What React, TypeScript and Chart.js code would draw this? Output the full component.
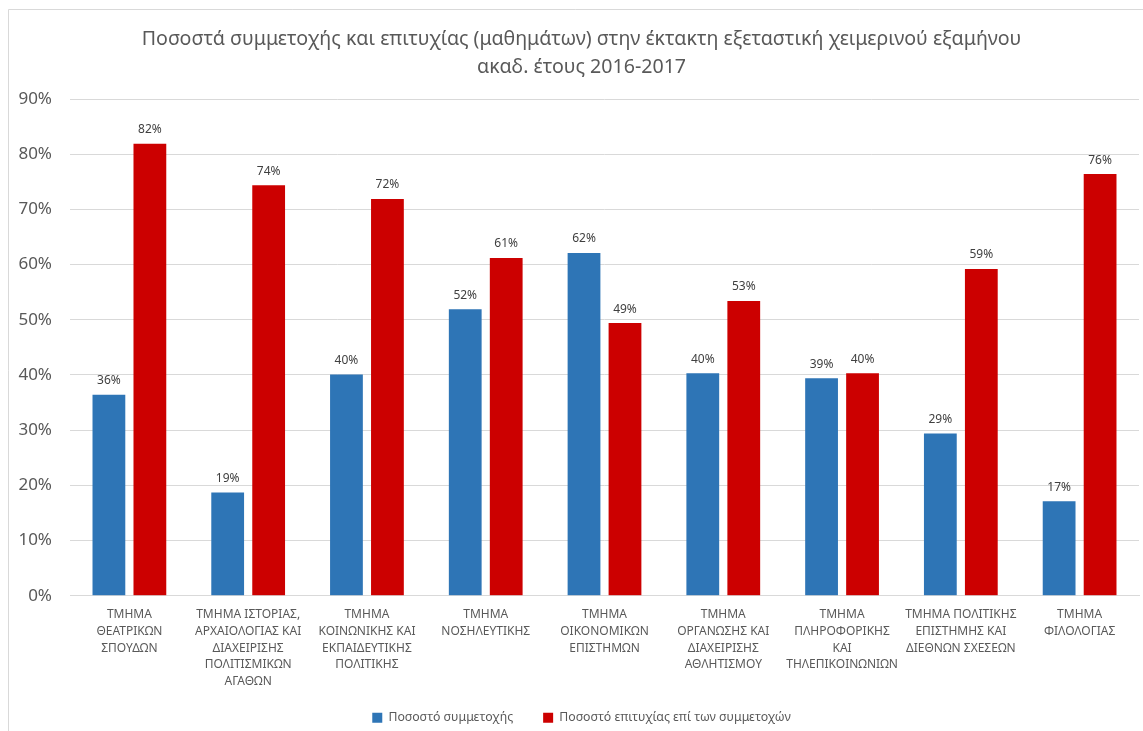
import { useEffect, useRef } from "react";
import { Chart, registerables } from "chart.js";

Chart.register(...registerables);

const titleLines = [
  "Ποσοστά συμμετοχής και επιτυχίας (μαθημάτων) στην έκτακτη εξεταστική χειμερινού εξαμήνου",
  "ακαδ. έτους 2016-2017",
];

const categories: string[][] = [
  ["ΤΜΗΜΑ", "ΘΕΑΤΡΙΚΩΝ", "ΣΠΟΥΔΩΝ"],
  ["ΤΜΗΜΑ ΙΣΤΟΡΙΑΣ,", "ΑΡΧΑΙΟΛΟΓΙΑΣ ΚΑΙ", "ΔΙΑΧΕΙΡΙΣΗΣ", "ΠΟΛΙΤΙΣΜΙΚΩΝ", "ΑΓΑΘΩΝ"],
  ["ΤΜΗΜΑ", "ΚΟΙΝΩΝΙΚΗΣ ΚΑΙ", "ΕΚΠΑΙΔΕΥΤΙΚΗΣ", "ΠΟΛΙΤΙΚΗΣ"],
  ["ΤΜΗΜΑ", "ΝΟΣΗΛΕΥΤΙΚΗΣ"],
  ["ΤΜΗΜΑ", "ΟΙΚΟΝΟΜΙΚΩΝ", "ΕΠΙΣΤΗΜΩΝ"],
  ["ΤΜΗΜΑ", "ΟΡΓΑΝΩΣΗΣ ΚΑΙ", "ΔΙΑΧΕΙΡΙΣΗΣ", "ΑΘΛΗΤΙΣΜΟΥ"],
  ["ΤΜΗΜΑ", "ΠΛΗΡΟΦΟΡΙΚΗΣ", "ΚΑΙ", "ΤΗΛΕΠΙΚΟΙΝΩΝΙΩΝ"],
  ["ΤΜΗΜΑ ΠΟΛΙΤΙΚΗΣ", "ΕΠΙΣΤΗΜΗΣ ΚΑΙ", "ΔΙΕΘΝΩΝ ΣΧΕΣΕΩΝ"],
  ["ΤΜΗΜΑ", "ΦΙΛΟΛΟΓΙΑΣ"],
];

const seriesNames = ["Ποσοστό συμμετοχής", "Ποσοστό επιτυχίας επί των συμμετοχών"];
const participation = [36.4, 18.7, 40.1, 51.9, 62.1, 40.3, 39.4, 29.4, 17.1];
const success = [81.9, 74.4, 71.9, 61.2, 49.4, 53.4, 40.3, 59.2, 76.4];
const seriesColors = ["#2E75B6", "#CC0000"];

const yMin = 0;
const yMax = 90;
const yStep = 10;

const FONT = "'Noto Sans', sans-serif";

const framePlugin = {
  id: "frame",
  afterLayout(chart: any) {
    if (chart.legend) {
      chart.legend.top += 3;
      chart.legend.bottom += 3;
    }
    // widen the label clipping areas of the axes without moving the labels
    if (chart.scales.y) chart.scales.y.left = 0;
    if (chart.scales.x) chart.scales.x.bottom = chart.height;
  },
  beforeDraw(chart: any) {
    const ctx = chart.ctx;
    ctx.save();
    ctx.fillStyle = "#ffffff";
    ctx.fillRect(0, 0, chart.width, chart.height);
    ctx.strokeStyle = "#D9D9D9";
    ctx.lineWidth = 1;
    ctx.beginPath();
    ctx.moveTo(8.5, chart.height);
    ctx.lineTo(8.5, 9.5);
    ctx.lineTo(chart.width, 9.5);
    ctx.stroke();
    ctx.restore();
  },
};

const labelPlugin = {
  id: "barLabels",
  afterDatasetsDraw(chart: any) {
    const ctx = chart.ctx;
    ctx.save();
    ctx.font = `12px ${FONT}`;
    ctx.fillStyle = "#404040";
    ctx.textAlign = "center";
    ctx.textBaseline = "bottom";
    chart.data.datasets.forEach((ds: any, i: number) => {
      const meta = chart.getDatasetMeta(i);
      meta.data.forEach((bar: any, j: number) => {
        const v = ds.data[j] as number;
        ctx.fillText(`${Math.round(v)}%`, bar.x, bar.y - 8);
      });
    });
    ctx.restore();
  },
};

export default function App() {
  const ref = useRef<HTMLCanvasElement | null>(null);

  useEffect(() => {
    document.body.style.margin = "0";
    document.body.style.overflow = "hidden";
    const canvas = ref.current;
    if (!canvas) return;
    const chart = new Chart(canvas, {
      type: "bar",
      data: {
        labels: categories,
        datasets: [
          {
            label: seriesNames[0],
            data: participation,
            backgroundColor: seriesColors[0],
            borderWidth: 0,
          },
          {
            label: seriesNames[1],
            data: success,
            backgroundColor: seriesColors[1],
            borderWidth: 0,
          },
        ],
      },
      options: {
        responsive: false,
        animation: false,
        maintainAspectRatio: false,
        layout: { padding: { left: 24, right: 4, top: 14, bottom: 0 } },
        datasets: {
          bar: { categoryPercentage: 0.69, barPercentage: 0.8 },
        },
        plugins: {
          title: {
            display: true,
            text: titleLines,
            color: "#595959",
            font: { family: FONT, size: 19.6, weight: "normal", lineHeight: 1.43 },
            padding: { top: 11, bottom: 18 },
          },
          legend: {
            display: true,
            position: "bottom",
            labels: {
              color: "#595959",
              font: { family: FONT, size: 12.3 },
              boxWidth: 10,
              boxHeight: 10,
              padding: 30,
            },
          },
          tooltip: { enabled: false },
        },
        scales: {
          x: {
            grid: { display: false, drawTicks: false },
            border: { display: true, color: "#D9D9D9" },
            ticks: {
              color: "#595959",
              font: { family: FONT, size: 12, lineHeight: 1.38 },
              maxRotation: 0,
              autoSkip: false,
              padding: 11,
            },
            afterFit(scale: any) {
              scale.height = 83;
            },
          },
          y: {
            min: yMin,
            max: yMax,
            grid: { color: "#D9D9D9", drawTicks: false },
            border: { display: false },
            ticks: {
              stepSize: yStep,
              color: "#595959",
              font: { family: FONT, size: 17 },
              padding: 18,
              callback: (v: any) => `${v}%`,
            },
            afterFit(scale: any) {
              scale.width = 46;
            },
          },
        },
      },
      plugins: [framePlugin, labelPlugin],
    });
    return () => chart.destroy();
  }, []);

  return <canvas ref={ref} width={1143} height={731} style={{ display: "block" }} />;
}
